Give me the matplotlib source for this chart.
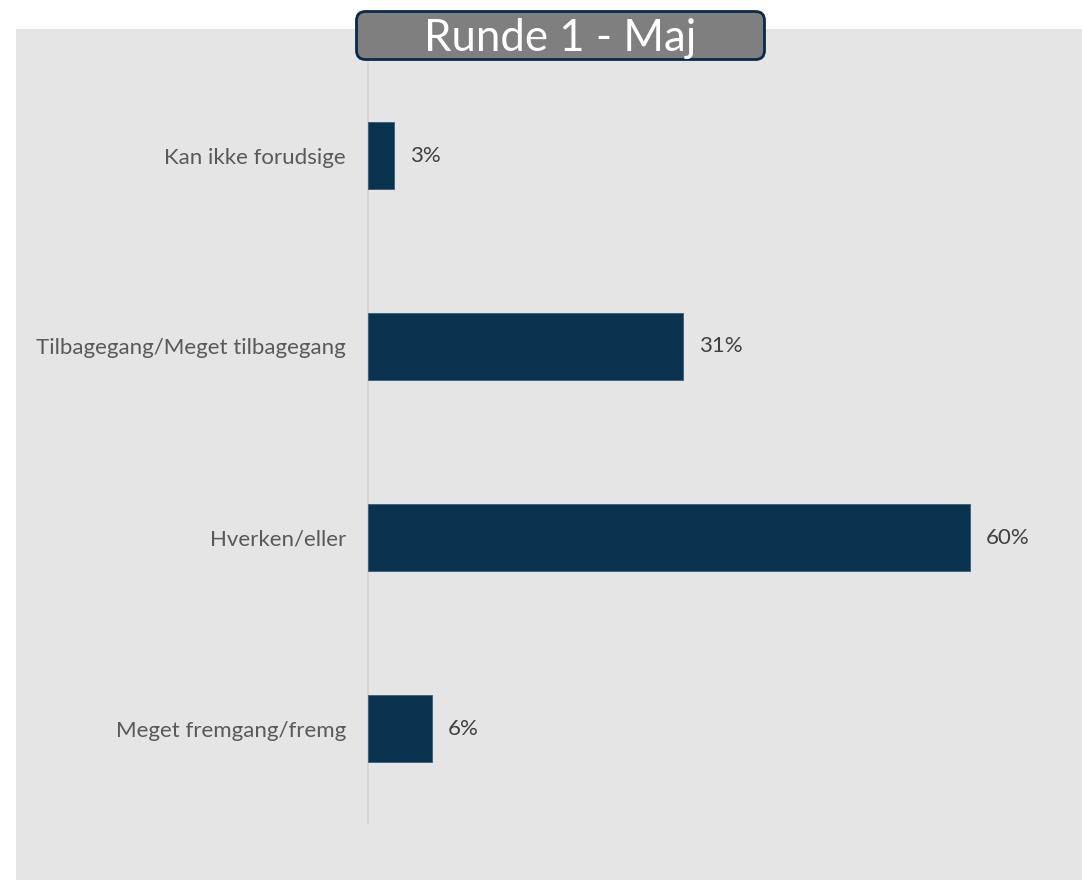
import matplotlib
matplotlib.use("Agg")
import matplotlib.pyplot as plt
from matplotlib.patches import Rectangle, FancyBboxPatch

# Data
categories = ["Kan ikke forudsige", "Tilbagegang/Meget tilbagegang", "Hverken/eller", "Meget fremgang/fremg"]
values = [2.6, 31.4, 60.0, 6.4]
title = "Runde 1 - Maj"

W, H = 1082, 880
fig = plt.figure(figsize=(W / 100, H / 100), dpi=100)
fig.patch.set_facecolor("white")

FONT = "Lato"
# gray panel
fig.patches.append(Rectangle((16 / W, 0), 1 - 16 / W, (H - 29) / H, transform=fig.transFigure,
                             facecolor="#e5e5e5", edgecolor="none", zorder=-10))

ax = fig.add_axes([368 / W, (H - 824) / H, (1060 - 368) / W, 764 / H])
ax.set_facecolor("none")
y = list(range(len(categories)))
ax.barh(y, values, height=0.35, color="#0a3350", edgecolor="#3a5d7a", linewidth=0.6, zorder=3)
ax.set_ylim(-0.5, len(categories) - 0.5)
ax.invert_yaxis()
ax.set_xlim(0, 69)
ax.set_yticks(y)
ax.set_yticklabels(categories, fontsize=16, color="#595959", family=FONT)
ax.tick_params(axis="y", length=0, pad=16)
ax.set_xticks([])
for s in ["top", "right", "bottom"]:
    ax.spines[s].set_visible(False)
ax.spines["left"].set_color("#d4d4d4")
ax.spines["left"].set_linewidth(1.2)
for yi, v in zip(y, values):
    ax.annotate(f"{round(v):d}%", (v, yi), xytext=(11.5, 0), textcoords="offset points",
                va="center", ha="left", fontsize=16, color="#404040", family=FONT)

# title box
tx0, ty0, tw, th = 355, 10, 411, 51
tax = fig.add_axes([tx0 / W, (H - ty0 - th) / H, tw / W, th / H])
tax.set_xlim(0, tw)
tax.set_ylim(0, th)
tax.axis("off")
tax.add_patch(FancyBboxPatch((1.5, 1.5), tw - 3, th - 3, boxstyle="round,pad=0,rounding_size=9",
                             facecolor="#7f7f7f", edgecolor="#0b2a45", linewidth=2.0, clip_on=False))
tax.text(tw / 2, 10, title, ha="center", va="baseline", fontsize=31.5, color="white", family=FONT)

fig.savefig("out.png", dpi=100)
